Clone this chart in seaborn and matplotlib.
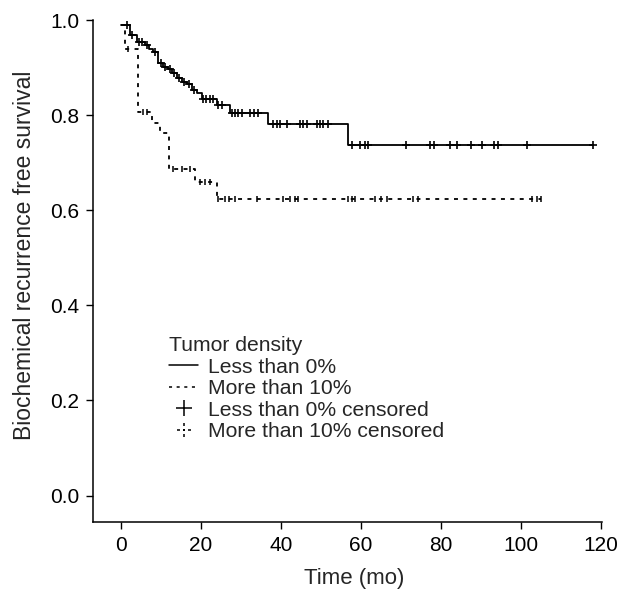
import numpy as np
import pandas as pd
import matplotlib
matplotlib.use("Agg")
import matplotlib.pyplot as plt
from matplotlib.lines import Line2D
from matplotlib.path import Path
import seaborn as sns

# Kaplan-Meier steps (time in months, survival)
lt_time = [0, 2.2, 3.9, 6, 7, 8, 9.3, 10.5, 11.8, 12.8, 14, 15.3, 16.5, 17.8,
           19, 20.2, 23.9, 27.2, 36.8, 56.8, 118]
lt_surv = [0.99, 0.968, 0.953, 0.947, 0.94, 0.933, 0.91, 0.902, 0.897, 0.889,
           0.878, 0.87, 0.865, 0.853, 0.846, 0.834, 0.821, 0.804, 0.782, 0.737, 0.737]
lt_cens = [1.5, 2.8, 4.5, 5.2, 6.5, 8.6, 10, 11, 12.2, 13.3, 14.6, 15.8, 17,
           18.3, 20.6, 21.3, 22.3, 23.1, 24.3, 25.2, 27.7, 28.5, 29.3, 30.2,
           32.3, 33.3, 34.3, 38, 38.9, 39.8, 41.4, 44.7, 45.6, 46.6, 49, 49.8,
           50.6, 51.8, 57.7, 59.8, 61, 61.8, 71.3, 77.3, 78.3, 82.3, 83.9,
           87.4, 90.3, 93.3, 94.3, 101.4, 118]

gt_time = [0, 1, 4.2, 7.7, 9.7, 12, 18.5, 24, 105]
gt_surv = [0.99, 0.94, 0.806, 0.784, 0.762, 0.686, 0.659, 0.623, 0.623]
gt_cens = [1.8, 5.5, 6.5, 13, 15.2, 17.2, 19.8, 21, 22.3, 24.3, 26, 27, 28.5,
           34, 40.6, 42.3, 43.5, 44.3, 56.8, 57.7, 58.5, 63.5, 65, 66.4, 73,
           74.3, 102.7, 103.9, 105]

legend_title = "Tumor density"
legend_labels = ["Less than 0%", "More than 10%",
                 "Less than 0% censored", "More than 10% censored"]


def surv_at(times, surv, t):
    idx = np.searchsorted(times, t, side="right") - 1
    return np.asarray(surv)[idx]


lt_df = pd.DataFrame({"time": lt_time, "surv": lt_surv})
gt_df = pd.DataFrame({"time": gt_time, "surv": gt_surv})
lt_c = pd.DataFrame({"time": lt_cens, "surv": surv_at(lt_time, lt_surv, lt_cens)})
gt_c = pd.DataFrame({"time": gt_cens, "surv": surv_at(gt_time, gt_surv, gt_cens)})

sns.set_style("ticks")
plt.rcParams["font.family"] = ["Liberation Sans", "DejaVu Sans"]

# dotted plus marker for the censored ">10%" group
dot_plus = Path(
    [(-1, 0), (-0.6, 0), (-0.2, 0), (0.2, 0), (0.6, 0), (1, 0),
     (0, -1), (0, -0.6), (0, -0.2), (0, 0.2), (0, 0.6), (0, 1)],
    [Path.MOVETO, Path.LINETO] * 6)

fig = plt.figure(figsize=(6.28, 5.9), dpi=100)
ax = fig.add_axes([0.148, 0.115, 0.811, 0.851])

dash = (0, (2.2, 3))
sns.lineplot(data=lt_df, x="time", y="surv", drawstyle="steps-post",
             estimator=None, color="black", linewidth=1.3, ax=ax, clip_on=False)
sns.lineplot(data=gt_df, x="time", y="surv", drawstyle="steps-post",
             estimator=None, color="black", linewidth=1.3, linestyle=dash,
             ax=ax, clip_on=False)
sns.scatterplot(data=lt_c, x="time", y="surv", marker="+", s=40,
                color="black", linewidth=1.2, ax=ax, clip_on=False)
sns.scatterplot(data=gt_c, x="time", y="surv", marker="|", s=14,
                color="black", linewidth=1.1, ax=ax, clip_on=False)

ax.set_xlim(-7, 120.3)
ax.set_ylim(-0.056, 1.0)
ax.set_xticks(range(0, 121, 20))
ax.set_yticks(np.arange(0, 1.01, 0.2))
ax.set_yticklabels([f"{v:.1f}" for v in np.arange(0, 1.01, 0.2)])
ax.tick_params(labelsize=15, length=5, width=1, pad=5, color="black",
               labelcolor="black")
ax.set_xlabel("Time (mo)", fontsize=16)
ax.set_ylabel("Biochemical recurrence free survival", fontsize=16.5)
ax.xaxis.set_label_coords(0.513, -0.092)
ax.yaxis.set_label_coords(-0.112, 0.532)
sns.despine(ax=ax)
for s in ["left", "bottom"]:
    ax.spines[s].set_linewidth(1.1)
    ax.spines[s].set_color("black")

handles = [
    Line2D([], [], color="black", linewidth=1.1),
    Line2D([], [], color="black", linewidth=1.1, linestyle=(0, (2, 3))),
    Line2D([], [], color="black", linestyle="none", marker="+", markersize=12,
           markeredgewidth=1.1),
    Line2D([], [], color="black", linestyle="none", marker=dot_plus,
           markersize=10, markeredgewidth=1.1),
]
leg = ax.legend(handles, legend_labels, title=legend_title, loc="upper left",
                bbox_to_anchor=(0.12, 0.40), frameon=False, fontsize=15.2,
                title_fontsize=15.2, alignment="left", handlelength=1.4,
                handletextpad=0.45, labelspacing=0.12, borderpad=0.2)

fig.savefig("out.png", dpi=100)
